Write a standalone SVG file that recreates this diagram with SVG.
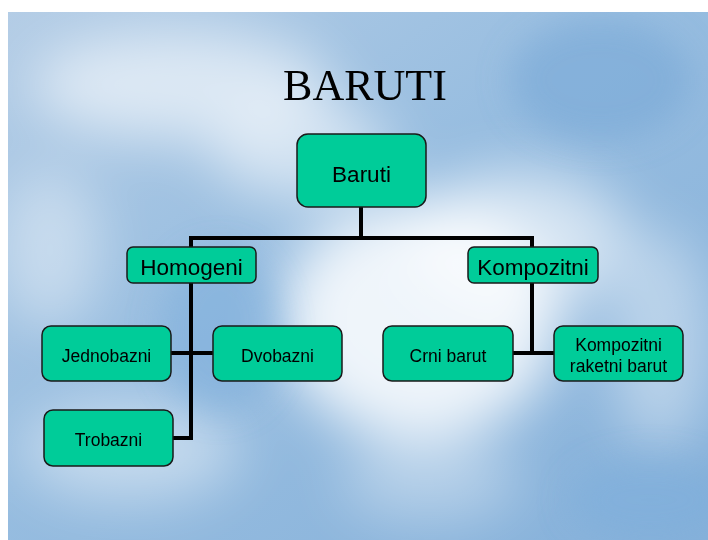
<svg xmlns="http://www.w3.org/2000/svg" width="708" height="540" viewBox="0 0 708 540">
<defs>
<linearGradient id="sky" x1="0" y1="0" x2="1" y2="1">
<stop offset="0" stop-color="#b4cde6"/>
<stop offset="0.45" stop-color="#97bde0"/>
<stop offset="1" stop-color="#86b1da"/>
</linearGradient>
<filter id="blur" x="-50%" y="-50%" width="200%" height="200%"><feGaussianBlur stdDeviation="28"/></filter>
<filter id="blur2" x="-50%" y="-50%" width="200%" height="200%"><feGaussianBlur stdDeviation="16"/></filter>
<clipPath id="clip"><rect x="8" y="12" width="700" height="528"/></clipPath>
</defs>
<style>
.node rect{fill:#00cc99;stroke:#1a1a1a;stroke-width:1.5}
.node text{font-family:"Liberation Sans",Arial,sans-serif;fill:#000;text-anchor:middle}
.conn{fill:none;stroke:#000;stroke-width:4;stroke-linejoin:miter}
</style>
<rect width="708" height="540" fill="#ffffff"/>
<g clip-path="url(#clip)">
<rect x="8" y="12" width="700" height="528" fill="url(#sky)"/>
<g filter="url(#blur)" fill="#ffffff">
<ellipse cx="180" cy="85" rx="150" ry="55" opacity="0.6"/>
<ellipse cx="420" cy="320" rx="140" ry="120" opacity="0.85"/>
<ellipse cx="520" cy="240" rx="110" ry="70" opacity="0.6"/>
<ellipse cx="300" cy="150" rx="90" ry="50" opacity="0.55"/>
<ellipse cx="130" cy="450" rx="110" ry="50" opacity="0.45"/>
<ellipse cx="50" cy="250" rx="50" ry="80" opacity="0.4"/>
<ellipse cx="660" cy="340" rx="50" ry="110" opacity="0.4"/>
<ellipse cx="430" cy="480" rx="90" ry="40" opacity="0.35"/>
</g>
<g filter="url(#blur2)">
<ellipse cx="600" cy="80" rx="90" ry="60" fill="#74a6d6" opacity="0.5"/>
<ellipse cx="220" cy="330" rx="60" ry="80" fill="#7eaedb" opacity="0.5"/>
<ellipse cx="650" cy="500" rx="80" ry="40" fill="#7eaedb" opacity="0.5"/>
</g>
</g>
<text x="365" y="100" font-family="'Liberation Serif','Times New Roman',serif" font-size="44" text-anchor="middle" fill="#000">BARUTI</text>
<g id="connectors">
<polyline class="conn" points="361,207 361,238"/>
<polyline class="conn" points="191,247 191,238 532,238 532,247"/>
<polyline class="conn" points="191,283 191,438 173,438"/>
<polyline class="conn" points="171,353 213,353"/>
<polyline class="conn" points="532,283 532,353"/>
<polyline class="conn" points="513,353 554,353"/>
</g>
<g id="n-baruti" class="node"><rect x="297" y="134" width="129" height="73" rx="11"/><text x="361.5" y="182" font-size="22.5">Baruti</text></g>
<g id="n-homogeni" class="node"><rect x="127" y="247" width="129" height="36" rx="6"/><text x="191.5" y="275" font-size="22.5">Homogeni</text></g>
<g id="n-kompozitni" class="node"><rect x="468" y="247" width="130" height="36" rx="6"/><text x="533" y="275" font-size="22.5">Kompozitni</text></g>
<g id="n-jednobazni" class="node"><rect x="42" y="326" width="129" height="55" rx="9"/><text x="106.5" y="362" font-size="17.5">Jednobazni</text></g>
<g id="n-dvobazni" class="node"><rect x="213" y="326" width="129" height="55" rx="9"/><text x="277.5" y="362" font-size="17.5">Dvobazni</text></g>
<g id="n-trobazni" class="node"><rect x="44" y="410" width="129" height="56" rx="9"/><text x="108.5" y="446" font-size="17.5">Trobazni</text></g>
<g id="n-crni" class="node"><rect x="383" y="326" width="130" height="55" rx="9"/><text x="448" y="362" font-size="17.5">Crni barut</text></g>
<g id="n-raketni" class="node"><rect x="554" y="326" width="129" height="55" rx="9"/><text x="618.5" y="351" font-size="17.5">Kompozitni</text><text x="618.5" y="372" font-size="17.5">raketni barut</text></g>
</svg>
